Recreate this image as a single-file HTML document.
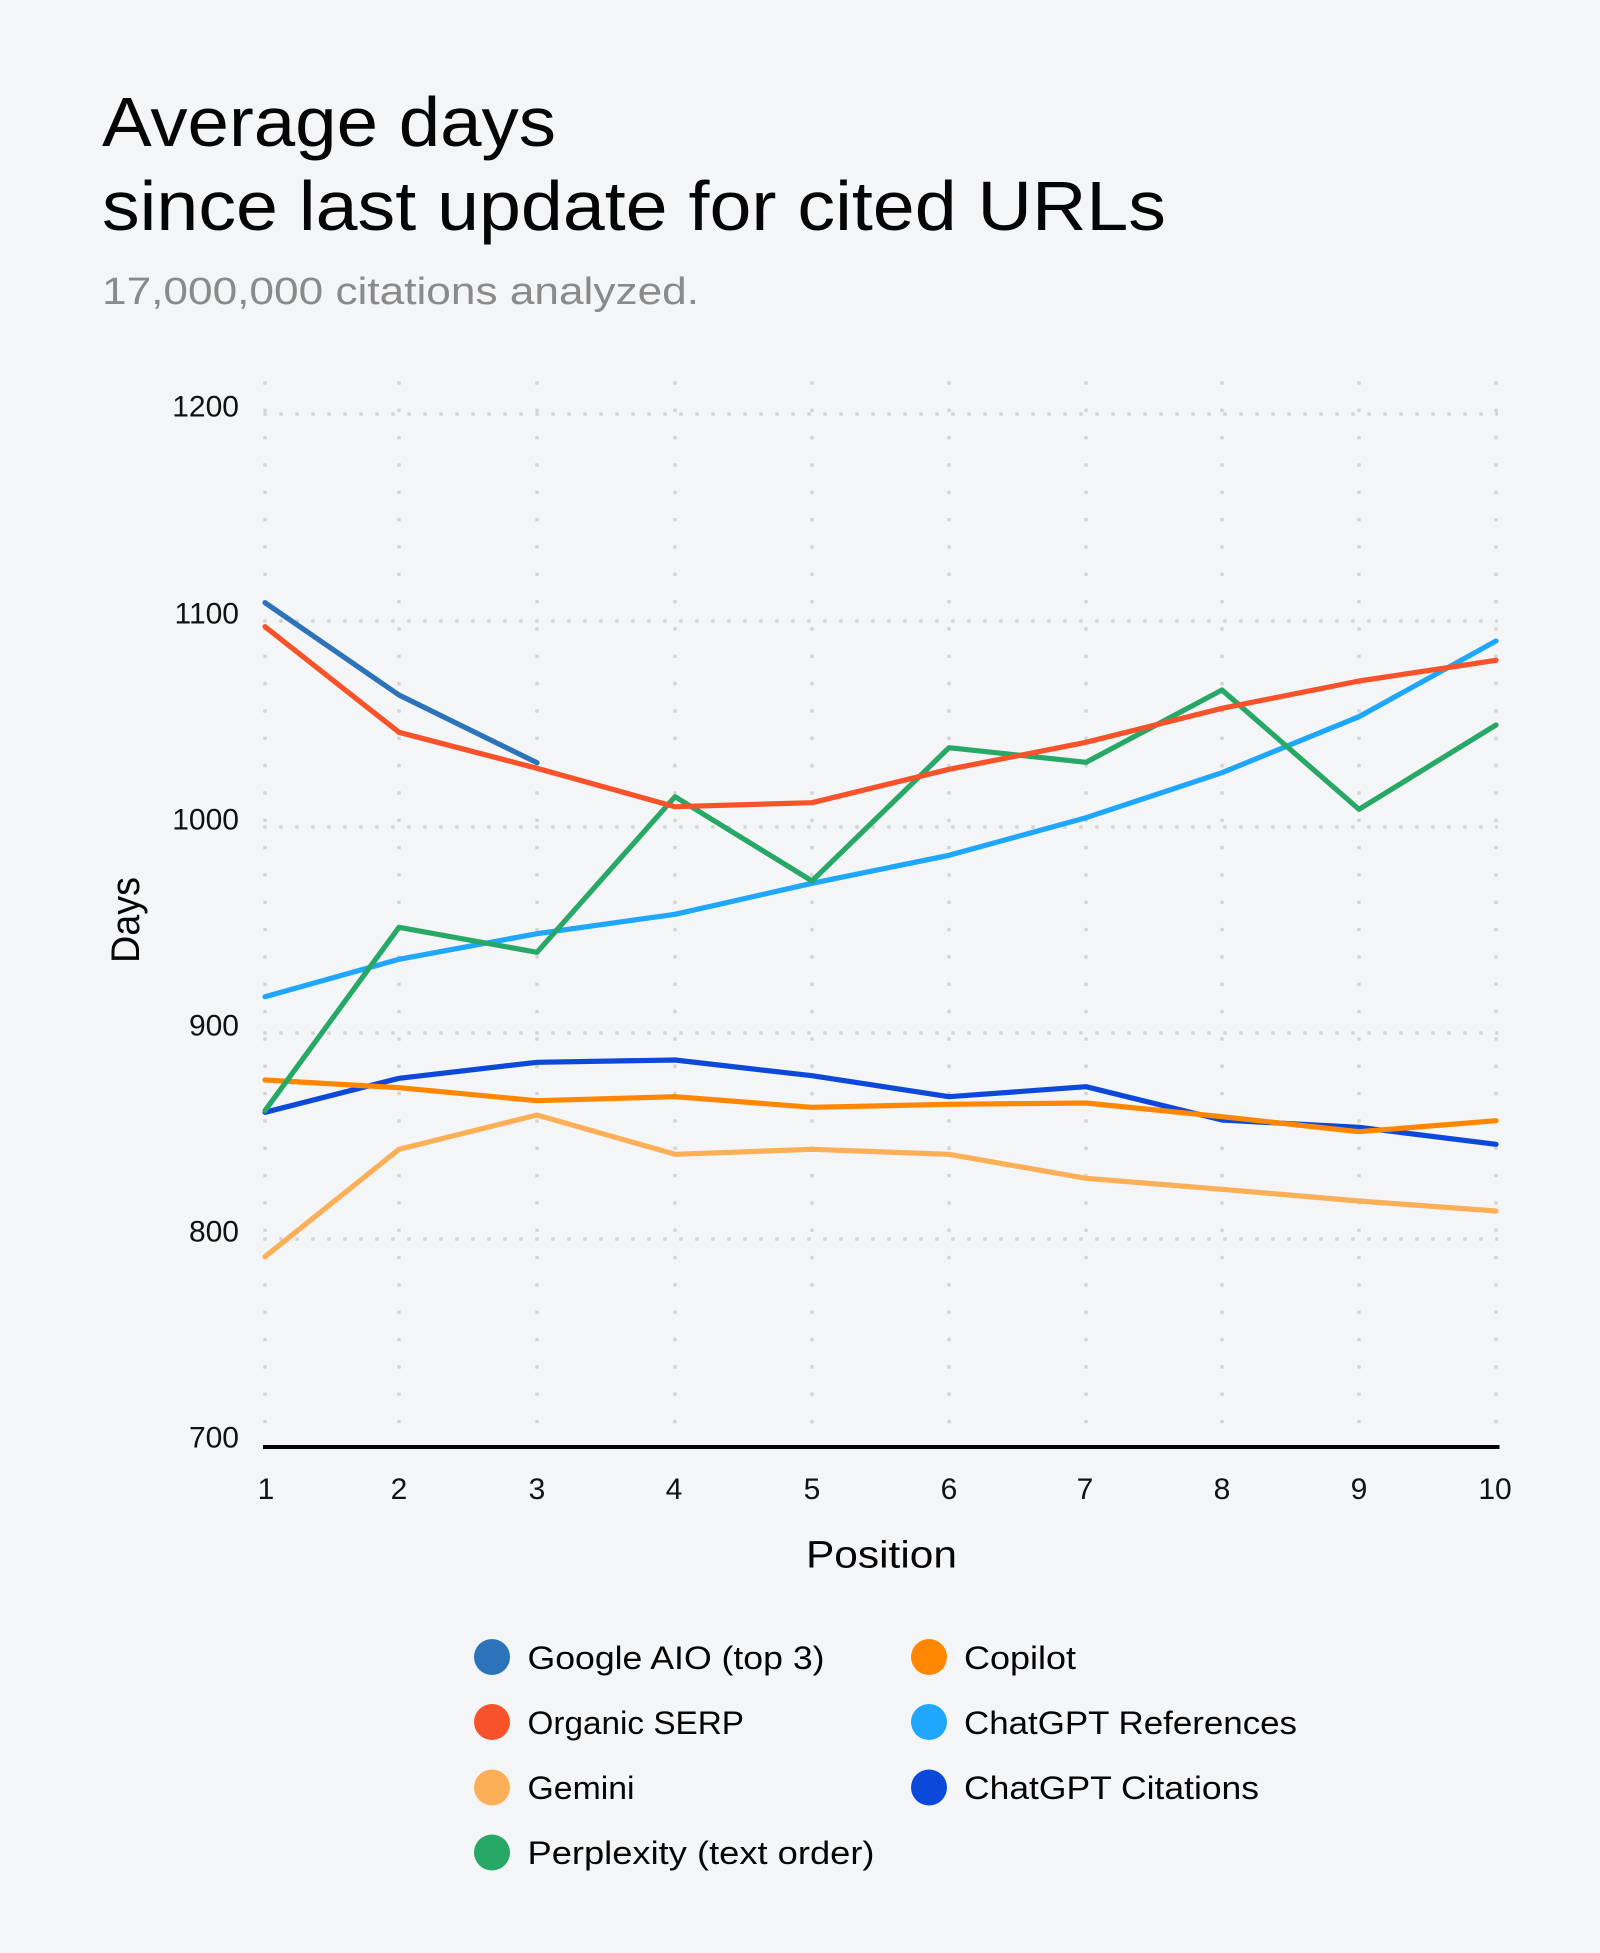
<!DOCTYPE html>
<html>
<head>
<meta charset="utf-8">
<style>
html,body{margin:0;padding:0;background:#f4f5f7;}
svg{display:block;}
text{font-family:"Liberation Sans",Arial,sans-serif;}
</style>
</head>
<body>
<svg width="1600" height="1953" viewBox="0 0 1600 1953" xmlns="http://www.w3.org/2000/svg">
<rect x="0" y="0" width="1600" height="1953" fill="#f4f5f7"/>

<!-- Title -->
<text x="102" y="146" font-size="70" fill="#050505" textLength="454" lengthAdjust="spacingAndGlyphs">Average days</text>
<text x="102" y="230" font-size="70" fill="#050505" textLength="1064" lengthAdjust="spacingAndGlyphs">since last update for cited URLs</text>
<text x="102" y="304" font-size="38" fill="#8a8a8a" textLength="597" lengthAdjust="spacingAndGlyphs">17,000,000 citations analyzed.</text>

<!-- vertical dotted gridlines -->
<g stroke="#d2d3d6" stroke-width="3.4" stroke-dasharray="3.4 23.93">
<line x1="265" y1="381.3" x2="265" y2="1440"/>
<line x1="399" y1="381.3" x2="399" y2="1440"/>
<line x1="537" y1="381.3" x2="537" y2="1440"/>
<line x1="675" y1="381.3" x2="675" y2="1440"/>
<line x1="812" y1="381.3" x2="812" y2="1440"/>
<line x1="949" y1="381.3" x2="949" y2="1440"/>
<line x1="1086" y1="381.3" x2="1086" y2="1440"/>
<line x1="1222" y1="381.3" x2="1222" y2="1440"/>
<line x1="1359" y1="381.3" x2="1359" y2="1440"/>
<line x1="1496" y1="381.3" x2="1496" y2="1440"/>
</g>
<!-- horizontal dotted gridlines -->
<g stroke="#d2d3d6" stroke-width="3.4" stroke-dasharray="3.4 12.6">
<line x1="263.3" y1="414" x2="1498" y2="414"/>
<line x1="263.3" y1="621" x2="1498" y2="621"/>
<line x1="263.3" y1="827" x2="1498" y2="827"/>
<line x1="263.3" y1="1033" x2="1498" y2="1033"/>
<line x1="263.3" y1="1239" x2="1498" y2="1239"/>
</g>

<!-- baseline -->
<line x1="263" y1="1447" x2="1499.5" y2="1447" stroke="#000" stroke-width="4"/>

<!-- y tick labels -->
<g font-size="30" fill="#111" text-anchor="end">
<text x="239" y="416.5">1200</text>
<text x="239" y="623.5">1100</text>
<text x="239" y="829.5">1000</text>
<text x="239" y="1035.5">900</text>
<text x="239" y="1241.5">800</text>
<text x="239" y="1447.5">700</text>
</g>

<!-- x tick labels -->
<g font-size="30" fill="#111" text-anchor="middle">
<text x="266" y="1499">1</text>
<text x="399" y="1499">2</text>
<text x="537" y="1499">3</text>
<text x="674" y="1499">4</text>
<text x="812" y="1499">5</text>
<text x="949" y="1499">6</text>
<text x="1085" y="1499">7</text>
<text x="1222" y="1499">8</text>
<text x="1359" y="1499">9</text>
<text x="1495" y="1499">10</text>
</g>

<!-- axis titles -->
<text x="881.5" y="1567.5" font-size="38" fill="#050505" text-anchor="middle" textLength="151" lengthAdjust="spacingAndGlyphs">Position</text>
<text transform="translate(139,920) rotate(-90)" x="0" y="0" font-size="40" fill="#050505" text-anchor="middle" textLength="86" lengthAdjust="spacingAndGlyphs">Days</text>

<!-- series -->
<g fill="none" stroke-width="5.2" stroke-linejoin="round" stroke-linecap="round">
<!-- ChatGPT Citations -->
<polyline stroke="#0c48d9" points="265,1112.3 399,1078.3 537,1062.3 675,1060 812,1075.7 949,1096.7 1086,1086.7 1222,1120 1359,1127.3 1496,1144.3"/>
<!-- ChatGPT References -->
<polyline stroke="#1ea7fd" points="265,996.7 399,959.3 537,933.7 675,914.3 812,883.3 949,855.3 1086,817.7 1222,772.7 1359,716.7 1496,641"/>
<!-- Copilot -->
<polyline stroke="#ff8700" points="265,1080 399,1087.7 537,1100.7 675,1096.7 812,1107.3 949,1104.3 1086,1103 1222,1116.7 1359,1131.7 1496,1120.7"/>
<!-- Perplexity -->
<polyline stroke="#27a866" points="265,1110.7 399,927.3 537,952.3 675,796.7 812,881 949,747.7 1086,762.3 1222,690 1359,809.3 1496,725"/>
<!-- Gemini -->
<polyline stroke="#fdaf57" points="265,1256.7 399,1149.3 537,1115 675,1154.3 812,1149.3 949,1154.3 1086,1178.3 1222,1189.3 1359,1201 1496,1211"/>
<!-- Organic SERP -->
<polyline stroke="#f7522a" points="265,626.7 399,732.3 537,768.3 675,806.7 812,802.7 949,769.3 1086,742.3 1222,708.3 1359,681 1496,660.3"/>
<!-- Google AIO -->
<polyline stroke="#2c73ba" points="265,602.7 399,695 537,762.7"/>
</g>

<!-- legend -->
<g>
<circle cx="492" cy="1657" r="18" fill="#2c73ba"/>
<circle cx="492" cy="1722" r="18" fill="#f7522a"/>
<circle cx="492" cy="1787.5" r="18" fill="#fdaf57"/>
<circle cx="492" cy="1852.5" r="18" fill="#27a866"/>
<circle cx="929" cy="1657" r="18" fill="#ff8700"/>
<circle cx="929" cy="1722" r="18" fill="#1ea7fd"/>
<circle cx="929" cy="1787.5" r="18" fill="#0c48d9"/>
</g>
<g font-size="32" fill="#050505">
<text x="527.5" y="1669" textLength="297" lengthAdjust="spacingAndGlyphs">Google AIO (top 3)</text>
<text x="527.5" y="1734" textLength="216.5" lengthAdjust="spacingAndGlyphs">Organic SERP</text>
<text x="527.5" y="1799" textLength="107" lengthAdjust="spacingAndGlyphs">Gemini</text>
<text x="527.5" y="1864" textLength="347" lengthAdjust="spacingAndGlyphs">Perplexity (text order)</text>
<text x="964" y="1669" textLength="112" lengthAdjust="spacingAndGlyphs">Copilot</text>
<text x="964" y="1734" textLength="333" lengthAdjust="spacingAndGlyphs">ChatGPT References</text>
<text x="964" y="1799" textLength="295" lengthAdjust="spacingAndGlyphs">ChatGPT Citations</text>
</g>
</svg>
</body>
</html>
